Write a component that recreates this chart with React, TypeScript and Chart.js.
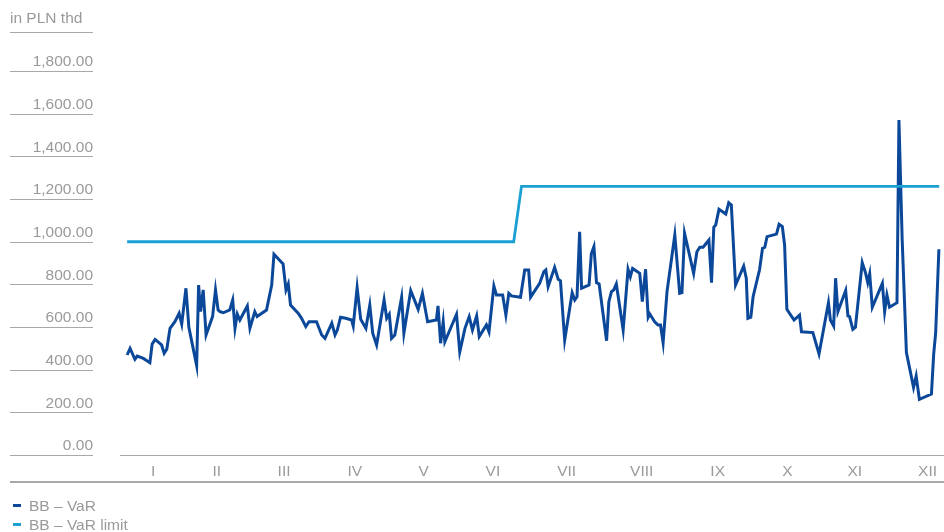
import React, { useEffect, useRef } from 'react';
import { Chart, registerables } from 'chart.js';

Chart.register(...registerables);

// ---- data ----
const unitLabel = 'in PLN thd';
const seriesNames = ['BB – VaR', 'BB – VaR limit'];
const seriesColors = ['#0c4899', '#1aa0d3'];

const monthLabels = ['I', 'II', 'III', 'IV', 'V', 'VI', 'VII', 'VIII', 'IX', 'X', 'XI', 'XII'];
// trading-day position of each month label
const monthTickDays = [8.2, 27.8, 48.5, 70.3, 91.5, 112.8, 135.5, 158.6, 182.0, 203.5, 224.2, 246.6];

const yMax = 2000;
const yStep = 200;

// BB – VaR (trading day index, value in PLN thd)
const varDays = [
  0.2, 1.1, 2.6, 3.3, 5.2, 7.2, 7.9, 8.8, 10.8, 11.6,
  12.4, 13.4, 14.9, 16.2, 17.0, 18.3, 19.2, 21.6, 22.2, 22.8,
  23.6, 24.5, 26.5, 27.4, 28.2, 28.8, 29.8, 31.8, 32.7, 33.4,
  34.1, 34.9, 37.2, 38.0, 39.5, 40.2, 43.1, 44.7, 45.4, 48.2,
  49.1, 49.8, 50.5, 52.9, 53.9, 55.2, 56.2, 58.5, 60.1, 61.1,
  63.2, 64.2, 64.9, 65.9, 67.5, 69.3, 69.8, 71.0, 72.1, 73.7,
  74.9, 75.8, 77.0, 79.3, 80.1, 80.9, 81.6, 82.6, 84.7, 85.4,
  87.5, 89.8, 91.1, 92.7, 95.4, 95.9, 96.7, 97.5, 98.0, 101.6,
  102.6, 104.2, 105.5, 106.5, 107.8, 108.6, 110.8, 111.6, 113.1, 113.9,
  115.8, 116.8, 117.7, 118.5, 121.3, 122.6, 123.8, 124.4, 127.2, 128.5,
  129.1, 129.8, 131.8, 132.9, 133.6, 134.9, 137.2, 138.0, 138.7, 139.5,
  140.1, 142.4, 143.1, 143.9, 144.7, 145.5, 147.8, 148.5, 149.3, 150.0,
  150.8, 152.9, 154.4, 155.1, 155.8, 158.0, 158.8, 159.8, 160.6, 161.1,
  162.6, 163.6, 164.4, 165.2, 166.4, 168.8, 170.3, 171.0, 171.8, 174.6,
  175.6, 176.5, 177.5, 179.3, 180.1, 180.8, 181.4, 182.4, 184.5, 185.4,
  186.2, 187.5, 190.0, 190.8, 191.3, 192.2, 192.9, 194.9, 195.8, 196.5,
  197.2, 200.1, 200.9, 201.9, 202.6, 203.3, 205.5, 207.2, 207.8, 211.3,
  213.2, 216.1, 216.7, 217.7, 218.3, 219.0, 221.4, 222.1, 222.6, 223.6,
  224.4, 226.5, 227.5, 228.2, 228.8, 229.6, 232.7, 233.4, 234.1, 234.9,
  237.2, 237.8, 238.8, 240.1, 242.3, 243.1, 244.1, 247.8, 248.5, 249.1,
  250.1,
];
const varValues = [
  469, 500, 449, 464, 453, 433, 520, 542, 516, 477,
  496, 594, 625, 664, 614, 782, 599, 419, 797, 672,
  774, 563, 649, 774, 680, 672, 667, 680, 727, 594,
  661, 633, 699, 594, 672, 649, 680, 797, 941, 896,
  774, 802, 703, 664, 641, 602, 625, 625, 563, 547,
  618, 563, 586, 646, 641, 633, 605, 785, 636, 594,
  703, 571, 516, 727, 641, 660, 547, 563, 740, 571,
  771, 683, 758, 625, 633, 699, 524, 625, 531, 660,
  484, 594, 649, 586, 652, 555, 610, 578, 792, 750,
  750, 656, 758, 746, 740, 868, 868, 740, 805, 860,
  868, 789, 880, 824, 817, 539, 761, 727, 742, 1047,
  782, 797, 943, 977, 808, 802, 536, 719, 766, 774,
  802, 586, 871, 836, 875, 852, 719, 871, 646, 661,
  625, 610, 610, 527, 766, 1032, 758, 761, 1040, 852,
  953, 974, 974, 1008, 808, 1068, 1079, 1152, 1130, 1183,
  1172, 797, 886, 829, 641, 646, 742, 870, 969, 974,
  1024, 1036, 1082, 1071, 985, 683, 633, 656, 578, 574,
  474, 714, 633, 605, 829, 672, 771, 652, 649, 589,
  599, 902, 855, 808, 849, 693, 805, 672, 750, 693,
  714, 1571, 1008, 480, 317, 370, 261, 286, 474, 571,
  965,
];

// BB – VaR limit
const limitDays = [0.2, 119.2, 121.6, 250.2];
const limitValues = [1000, 1000, 1260, 1260];

const FONT = '"Liberation Sans", Arial, Helvetica, sans-serif';
const GRAY = '#9a9a9a';
const RULE = '#a8a8a8';

const fmt = (v: number) =>
  v.toLocaleString('en-US', { minimumFractionDigits: 2, maximumFractionDigits: 2 });

export default function App() {
  const ref = useRef<HTMLCanvasElement>(null);

  useEffect(() => {
    document.body.style.margin = '0';
    const canvas = ref.current;
    if (!canvas) return;

    const decor = {
      id: 'decor',
      afterDraw(chart: any) {
        const ctx = chart.ctx;
        const y = chart.scales.y;
        ctx.save();
        ctx.strokeStyle = RULE;
        ctx.lineWidth = 1;
        y.ticks.forEach((t: any) => {
          if (t.value >= yMax) return;
          const py = Math.round(y.getPixelForValue(t.value)) + 0.5;
          ctx.beginPath();
          ctx.moveTo(10, py);
          ctx.lineTo(93, py);
          ctx.stroke();
        });
        // unit header
        ctx.beginPath();
        ctx.moveTo(10, 32.5);
        ctx.lineTo(93, 32.5);
        ctx.stroke();
        ctx.fillStyle = GRAY;
        ctx.font = `15.5px ${FONT}`;
        ctx.textAlign = 'left';
        ctx.textBaseline = 'middle';
        ctx.fillText(unitLabel, 10, 19);
        // bottom rule
        ctx.lineWidth = 2;
        ctx.beginPath();
        ctx.moveTo(10, 482);
        ctx.lineTo(944, 482);
        ctx.stroke();
        ctx.restore();
      },
    };

    const chart = new Chart(canvas, {
      type: 'line',
      data: {
        datasets: [
          {
            label: seriesNames[1],
            data: limitDays.map((d, i) => ({ x: d, y: limitValues[i] })),
            borderColor: seriesColors[1],
            backgroundColor: seriesColors[1],
            borderWidth: 2.8,
            pointRadius: 0,
            tension: 0,
          },
          {
            label: seriesNames[0],
            data: varDays.map((d, i) => ({ x: d, y: varValues[i] })),
            borderColor: seriesColors[0],
            backgroundColor: seriesColors[0],
            borderWidth: 3,
            pointRadius: 0,
            tension: 0,
          },
        ],
      },
      options: {
        animation: false,
        responsive: false,
        maintainAspectRatio: false,
        layout: { padding: { top: 28.5, bottom: 50, left: 0, right: 0 } },
        plugins: {
          legend: { display: false },
          tooltip: { enabled: false },
        },
        scales: {
          x: {
            type: 'linear',
            min: -2,
            max: 251.5,
            grid: { display: false, drawTicks: false },
            border: { display: true, color: RULE, width: 1 },
            afterBuildTicks: (scale: any) => {
              scale.ticks = monthTickDays.map((v) => ({ value: v }));
            },
            afterFit: (scale: any) => {
              scale.height = 27;
            },
            ticks: {
              autoSkip: false,
              maxRotation: 0,
              padding: 7,
              color: GRAY,
              font: { family: FONT, size: 15.5 },
              callback: (_v: any, i: number) => monthLabels[i],
            },
          },
          y: {
            min: 0,
            max: yMax,
            grid: { display: false, drawTicks: false },
            border: { display: false },
            afterFit: (scale: any) => {
              scale.width = 120;
              scale.paddingTop = 0;
              scale.paddingBottom = 0;
            },
            ticks: {
              stepSize: yStep,
              padding: 27,
              labelOffset: -9,
              color: GRAY,
              font: { family: FONT, size: 15.5 },
              callback: (v: any) => (Number(v) >= yMax ? '' : fmt(Number(v))),
            },
          },
        },
      },
      plugins: [decor],
    });

    return () => chart.destroy();
  }, []);

  return (
    <div style={{ position: 'relative', width: 944, height: 532 }}>
      <canvas ref={ref} width={944} height={532} style={{ display: 'block' }} />
      <div
        style={{
          position: 'absolute',
          left: 13,
          top: 496,
          font: `15.5px ${FONT}`,
          color: GRAY,
          lineHeight: '19px',
        }}
      >
        {seriesNames.map((name, i) => (
          <div key={name} style={{ display: 'flex', alignItems: 'center', whiteSpace: 'nowrap' }}>
            <span
              style={{
                display: 'inline-block',
                width: 8,
                height: 3,
                background: seriesColors[i],
                marginRight: 8,
              }}
            />
            {name}
          </div>
        ))}
      </div>
    </div>
  );
}
